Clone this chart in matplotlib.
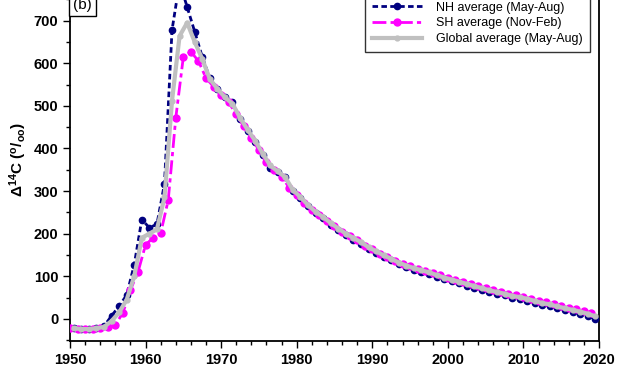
import numpy as np
import matplotlib
matplotlib.use('Agg')
import matplotlib.pyplot as plt
from matplotlib.ticker import MultipleLocator, FixedLocator

plt.rcParams['font.family'] = ['Liberation Sans', 'DejaVu Sans']
plt.rcParams['mathtext.fontset'] = 'custom'
plt.rcParams['mathtext.rm'] = 'Liberation Sans:bold'
plt.rcParams['mathtext.bf'] = 'Liberation Sans:bold'
plt.rcParams['mathtext.it'] = 'Liberation Sans:bold'
plt.rcParams['mathtext.default'] = 'bf'

# NH average (May-Aug), plotted at mid-year
nh_years = np.arange(1950, 2020) + 0.5
nh_vals = [-22, -24, -24, -21, -17, 7, 30, 56, 127, 233,
           214, 222, 317, 678, 790, 732, 674, 615, 565, 540,
           520, 508, 470, 442, 415, 385, 355, 345, 332, 300,
           284, 264, 248, 236, 221, 208, 196, 186, 176, 164,
           155, 145, 137, 128, 121, 115, 110, 105, 99, 93,
           88, 83, 78, 73, 68, 63, 59, 55, 50, 47,
           43, 38, 33, 30, 25, 21, 17, 12, 7, 0]

# SH average (Nov-Feb), plotted at start of year
sh_years = np.arange(1950, 2020)
sh_vals = [-21, -25, -25, -24, -22, -18, -14, 14, 68, 110,
           174, 190, 201, 279, 472, 615, 627, 605, 565, 545,
           525, 508, 480, 452, 425, 396, 368, 350, 334, 308,
           291, 272, 256, 244, 230, 217, 205, 194, 184, 172,
           163, 153, 145, 136, 129, 123, 118, 113, 107, 102,
           97, 92, 87, 82, 77, 72, 67, 64, 59, 55,
           52, 47, 42, 39, 34, 30, 26, 22, 18, 14]

# Global average (May-Aug)
gl_years = np.arange(1950, 2020) + 0.5
gl_vals = [-22, -24, -24, -22, -19, -5, 15, 45, 100, 190,
           200, 210, 285, 512, 664, 695, 650, 610, 563, 540,
           520, 505, 472, 444, 418, 388, 360, 346, 332, 302,
           286, 267, 251, 239, 225, 212, 200, 190, 180, 168,
           159, 149, 141, 132, 125, 119, 114, 109, 103, 97,
           92, 87, 82, 77, 72, 67, 63, 59, 54, 51,
           47, 42, 37, 34, 29, 25, 21, 17, 12, 6]

y_ticks = [0, 100, 200, 300, 400, 500, 600, 700]

fig = plt.figure(figsize=(6.26, 3.76), dpi=100)
# axes top runs past the top of the picture (the original is cropped there)
ax = fig.add_axes([70/626, 35/376, 529/626, 363/376])

ax.plot(nh_years, nh_vals, color='#000080', ls=(0, (2, 1.2)), lw=2,
        marker='o', ms=4.5, label='NH average (May-Aug)', zorder=3)
ax.plot(sh_years, sh_vals, color='#ff00ff', ls=(0, (5, 1.5, 1.5, 1.5)), lw=2,
        marker='o', ms=5, label='SH average (Nov-Feb)', zorder=4)
ax.plot(gl_years, gl_vals, color='#c0c0c0', ls='-', lw=3,
        marker='o', ms=3.5, label='Global average (May-Aug)', zorder=5)

ax.set_xlim(1950, 2020)
ax.set_ylim(-52, 800)
ax.xaxis.set_major_locator(MultipleLocator(10))
ax.xaxis.set_minor_locator(MultipleLocator(2))
ax.yaxis.set_major_locator(FixedLocator(y_ticks))
ax.yaxis.set_minor_locator(MultipleLocator(50))
ax.tick_params(which='major', direction='out', length=5, width=1,
               labelsize=10.5)
ax.tick_params(which='minor', direction='out', length=3, width=1)
for lab in ax.get_xticklabels() + ax.get_yticklabels():
    lab.set_fontweight('bold')
for sp in ax.spines.values():
    sp.set_linewidth(1.3)

ax.set_ylabel(r'$\Delta^{14}$C ($^{o}/_{oo}$)', fontsize=11,
              fontweight='bold', labelpad=3)

leg = ax.legend(loc='lower right', bbox_to_anchor=(590/626, 1 - 52/376),
                bbox_transform=fig.transFigure, fontsize=9,
                frameon=True, fancybox=False, edgecolor='black',
                handlelength=4.0, handletextpad=1.2, borderpad=0.55,
                labelspacing=0.3, borderaxespad=0)
leg.get_frame().set_linewidth(1)

fig.text(73/626, 1 - 12/376, '(b)', fontsize=11, ha='left', va='bottom',
         bbox=dict(boxstyle='square,pad=0.25', fc='white', ec='black', lw=1))

fig.savefig('out.png', dpi=100)
